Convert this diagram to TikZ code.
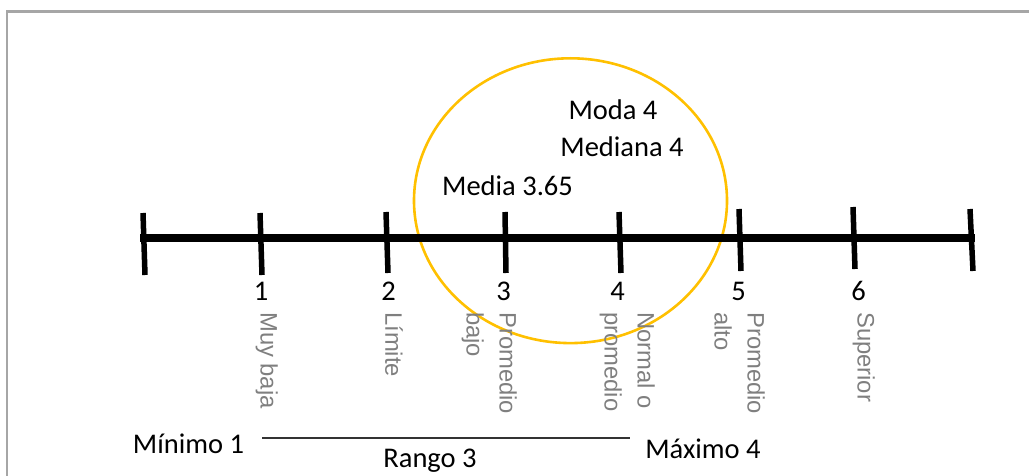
\documentclass[tikz,border=0pt]{standalone}
\usepackage{fontspec}
\setmainfont{Carlito}
\newfontfamily\arialf{Liberation Sans}
\definecolor{ringc}{HTML}{FFC000}
\definecolor{lblc}{HTML}{7F7F7F}
\definecolor{framec}{HTML}{A6A6A6}
\begin{document}
\begin{tikzpicture}[x=1pt,y=-1pt,
  txt/.style={inner sep=0pt,anchor=base,font=\fontsize{28.5}{34}\selectfont},
  vlbl/.style={inner sep=0pt,rotate=-90,anchor=north west,align=left,text=lblc,font=\arialf\fontsize{23.8}{33}\selectfont},
  axtick/.style={line width=5.5pt,black},
  axline/.style={line width=8pt,black},
  ring/.style={draw=ringc,line width=2.6pt},
  rangeline/.style={line width=1.3pt,draw=black!80}]
\useasboundingbox (0,0) rectangle (1029,476);
% frame
\draw[framec,line width=2.5pt] (7,476) -- (7,11.5) -- (1029,11.5);
% ellipse
\draw[ring] (570.5,200.7) ellipse [x radius=156.5, y radius=142.4];
% axis
\coordinate (a0) at (140,237.5);
\coordinate (a1) at (975,237.5);
\draw[axline] (a0) -- (a1);
% ticks
\foreach \n/\xa/\ya/\xb/\yb in {0/143/213/145/275,1/260/213/262/275,2/386/212/388/273,3/505/212/506/273,4/619/212/621/273,5/739/209/741/271,6/853/207/855/269,7/970/209/973/271}{
  \coordinate (t\n a) at (\xa,\ya);
  \coordinate (t\n b) at (\xb,\yb);
  \draw[axtick] (t\n a) -- (t\n b);
}
% numbers
\node[txt] (n1) at (261,300) {1};
\node[txt] (n2) at (388.5,300) {2};
\node[txt] (n3) at (503.5,300) {3};
\node[txt] (n4) at (617.5,300) {4};
\node[txt] (n5) at (738.5,300) {5};
\node[txt] (n6) at (858.5,300) {6};
% vertical labels
\node[vlbl] (l1) at (278,312) {Muy baja};
\node[vlbl] (l2) at (403,312) {Límite};
\node[vlbl] (l3) at (517,312) {Promedio\\bajo};
\node[vlbl] (l4) at (655,312) {Normal o\\promedio};
\node[vlbl] (l5) at (765,312) {Promedio\\alto};
\node[vlbl] (l6) at (875,312) {Superior};
% statistics
\node[txt] (moda) at (613,120) {Moda 4};
\node[txt] (mediana) at (622,157) {Mediana 4};
\node[txt] (media) at (507.5,196) {Media 3.65};
% range
\node[txt] (min) at (188.5,453) {Mínimo 1};
\node[txt] (max) at (703,458) {Máximo 4};
\node[txt] (rango) at (430,467) {Rango 3};
\coordinate (r0) at (262,438);
\coordinate (r1) at (630,438);
\draw[rangeline] (r0) -- (r1);
\end{tikzpicture}
\end{document}
